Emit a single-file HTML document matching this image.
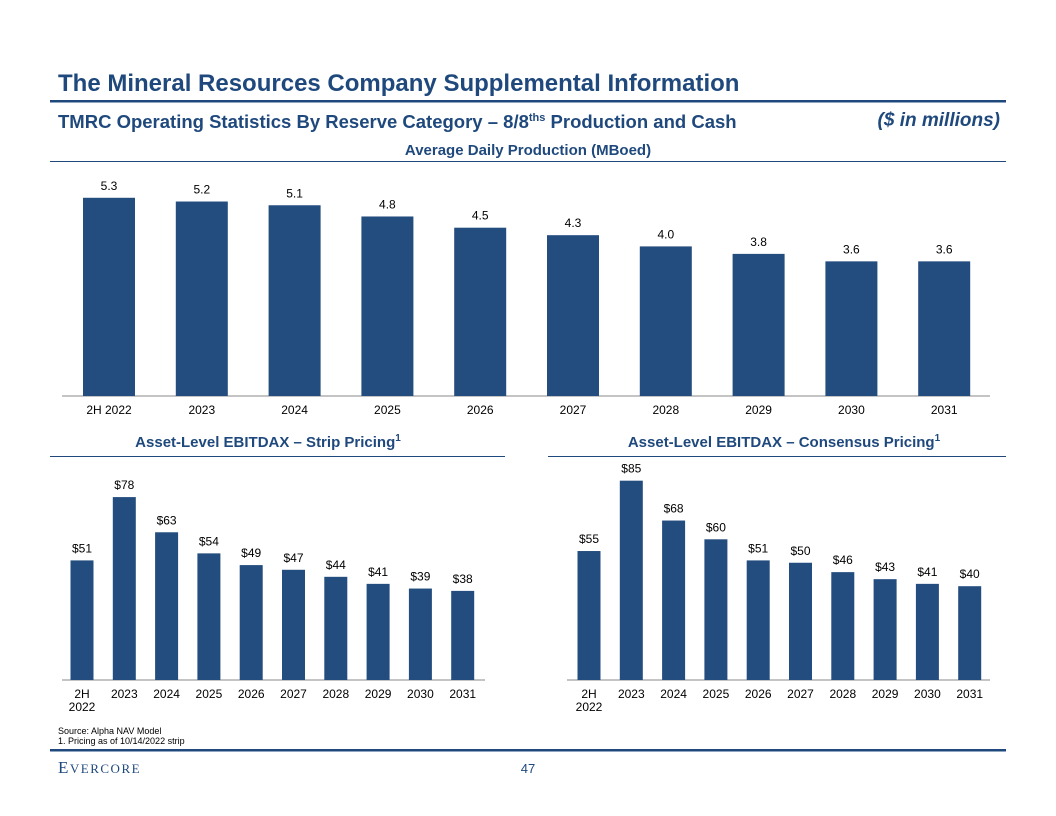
<!DOCTYPE html>
<html><head><meta charset="utf-8"><style>
body{margin:0;width:1056px;height:816px;background:#fff;font-family:"Liberation Sans",sans-serif;overflow:hidden}
svg{position:absolute;left:0;top:0}
</style></head><body>
<svg width="1056" height="816">
<text x="58" y="91" font-size="24" font-weight="bold" fill="#1F497D">The Mineral Resources Company Supplemental Information</text>
<rect x="50" y="100" width="956" height="2.5" fill="#1F497D"/>
<text x="58" y="128" font-size="18.5" font-weight="bold" fill="#1F497D">TMRC Operating Statistics By Reserve Category – 8/8<tspan font-size="11" dy="-7">ths</tspan><tspan dy="7"> Production and Cash</tspan></text>
<text x="1000" y="126" font-size="19" font-weight="bold" font-style="italic" fill="#1F497D" text-anchor="end">($ in millions)</text>
<text x="528" y="155" font-size="15" font-weight="bold" fill="#1F497D" text-anchor="middle">Average Daily Production (MBoed)</text>
<rect x="50" y="161" width="956" height="1" fill="#1F497D"/>
<text x="268" y="447" font-size="15" font-weight="bold" fill="#1F497D" text-anchor="middle">Asset-Level EBITDAX – Strip Pricing<tspan font-size="10" dy="-6">1</tspan></text>
<rect x="50" y="456" width="455" height="1" fill="#1F497D"/>
<text x="784" y="447" font-size="15" font-weight="bold" fill="#1F497D" text-anchor="middle">Asset-Level EBITDAX – Consensus Pricing<tspan font-size="10" dy="-6">1</tspan></text>
<rect x="548" y="456" width="458" height="1" fill="#1F497D"/>
<g id="c1"></g>
<g id="c2"></g>
<g id="c3"></g>
<text x="58" y="734" font-size="9" fill="#000">Source: Alpha NAV Model</text>
<text x="58" y="744" font-size="9" fill="#000">1.     Pricing as of 10/14/2022 strip</text>
<rect x="50" y="749" width="956" height="2.5" fill="#1F497D"/>
<text x="58" y="773" font-size="17" font-family="Liberation Serif,serif" fill="#1F497D" letter-spacing="1.5">E<tspan font-size="13">VERCORE</tspan></text>
<text x="528" y="773" font-size="13" fill="#1F497D" text-anchor="middle">47</text>
</svg>
<script>
const prodCats=["2H 2022","2023","2024","2025","2026","2027","2028","2029","2030","2031"];
const prodVals=[5.3,5.2,5.1,4.8,4.5,4.3,4.0,3.8,3.6,3.6];
const prodLabels=["5.3","5.2","5.1","4.8","4.5","4.3","4.0","3.8","3.6","3.6"];
const ebCats=["2H","2023","2024","2025","2026","2027","2028","2029","2030","2031"];
const stripVals=[51,78,63,54,49,47,44,41,39,38];
const consVals=[55,85,68,60,51,50,46,43,41,40];
const NS="http://www.w3.org/2000/svg";
function mk(g,t,a){const e=document.createElementNS(NS,t);for(const k in a)e.setAttribute(k,a[k]);g.appendChild(e);return e;}
function chart(id,cats,vals,labels,o){
 const g=document.getElementById(id);
 const x=i=>o.x0+i*o.step;
 const y=v=>o.base-v*o.scale;
 const ax=mk(g,'line',{x1:o.left,x2:o.right,y1:o.base,y2:o.base,stroke:'#888','stroke-width':1});
 
 
 vals.forEach((v,i)=>{
  const r=mk(g,'rect',{x:x(i)-o.bw/2,y:y(v),width:o.bw,height:o.base-y(v),fill:'#234D7F'});
  
  
  const t=mk(g,'text',{x:x(i),y:y(v)-8,'font-size':12,'text-anchor':'middle',fill:'#000'});
  t.textContent=labels[i];
  
  
  const c=mk(g,'text',{x:x(i),y:o.base+18,'font-size':12,'text-anchor':'middle',fill:'#000'});
  c.textContent=cats[i];
  
  
  if(o.sub&&i===0){const s=mk(g,'text',{x:x(i),y:o.base+31,'font-size':12,'text-anchor':'middle',fill:'#000'});s.textContent='2022';
  
  }
 });
}
chart('c1',prodCats,prodVals,prodLabels,{x0:109,step:92.8,bw:52,base:396,scale:37.4,left:62,right:990});
chart('c2',ebCats,stripVals,stripVals.map(v=>'$'+v),{x0:82,step:42.3,bw:23,base:680,scale:2.345,left:62,right:485,sub:true});
chart('c3',ebCats,consVals,consVals.map(v=>'$'+v),{x0:589,step:42.3,bw:23,base:680,scale:2.345,left:567,right:990,sub:true});
</script>
</body></html>
